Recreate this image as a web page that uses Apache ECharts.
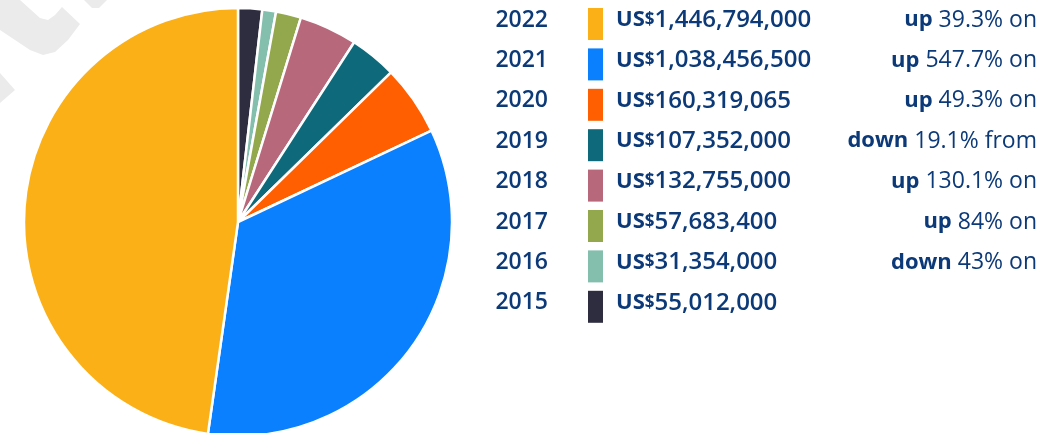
<!DOCTYPE html>
<html>
<head>
<meta charset="utf-8">
<script src="https://cdn.jsdelivr.net/npm/echarts@6/dist/echarts.min.js"></script>
<style>
  html, body { margin: 0; padding: 0; background: #fff; }
  #main { width: 1061px; height: 433px; }
</style>
</head>
<body>
<div id="main"></div>
<script>
// data, oldest first (pie runs clockwise from 12 o'clock)
var years = ['2015', '2016', '2017', '2018', '2019', '2020', '2021', '2022'];
var amounts = [55012000, 31354000, 57683400, 132755000, 107352000, 160319065, 1038456500, 1446794000];
var colors = ['#2e2d40', '#84bfae', '#93a84c', '#b8687b', '#0e6a7a', '#ff5f00', '#0a80ff', '#fbb017'];
var changeDir = ['', 'down', 'up', 'up', 'down', 'up', 'up', 'up'];
var changeText = ['', '43% on', '84% on', '130.1% on', '19.1% from', '49.3% on', '547.7% on', '39.3% on'];

var navy = '#0c3a78';
var font = 'Open Sans';
var rowTop = 8, rowStep = 40.4;

var chart = echarts.init(document.getElementById('main'));

var pieData = years.map(function (y, i) {
  return { name: y, value: amounts[i], itemStyle: { color: colors[i] } };
});

// legend listed newest first
var legendNames = years.slice().reverse();

var graphics = [
  // faint watermark shapes in the corner
  { type: 'polygon', z: -10, silent: true,
    shape: { points: [[0, 0], [20, 0], [40, 18], [48, 20], [55, 15], [62, 7], [80, 24], [68, 40], [55, 52], [43, 55], [30, 50], [0, 30]] },
    style: { fill: '#ebebeb' } },
  { type: 'polygon', z: -10, silent: true,
    shape: { points: [[84, 0], [107, 0], [99, 8], [92, 8]] },
    style: { fill: '#ebebeb' } },
  { type: 'polygon', z: -10, silent: true,
    shape: { points: [[0, 73], [15, 90], [0, 103]] },
    style: { fill: '#ebebeb' } }
];

legendNames.forEach(function (y, r) {
  var i = years.indexOf(y);
  var cy = rowTop + 12 + r * rowStep;
  graphics.push({
    type: 'text', silent: true,
    x: 548, y: cy,
    style: { text: y, fill: navy, font: '600 23px "' + font + '"', align: 'right', verticalAlign: 'middle' }
  });
  if (changeDir[i]) {
    graphics.push({
      type: 'text', silent: true,
      x: 1037, y: cy,
      style: {
        text: '{b|' + changeDir[i] + '}{n| ' + changeText[i] + '}',
        align: 'right', verticalAlign: 'middle',
        rich: {
          b: { fill: navy, font: 'bold 22px "' + font + '"' },
          n: { fill: navy, font: 'normal 23px "' + font + '"' }
        }
      }
    });
  }
});

var option = {
  animation: false,
  graphic: graphics,
  legend: {
    orient: 'vertical',
    left: 588,
    top: rowTop,
    padding: 0,
    itemWidth: 15,
    itemHeight: 32,
    itemGap: rowStep - 32,
    icon: 'rect',
    selectedMode: false,
    data: legendNames,
    itemStyle: { borderWidth: 0 },
    formatter: function (name) {
      var i = years.indexOf(name);
      return '{us|US}{d|$}{v|' + amounts[i].toLocaleString('en-US') + '}';
    },
    textStyle: {
      padding: [0, 0, 8, 8],
      rich: {
        us: { color: navy, fontFamily: font, fontWeight: 'bold', fontSize: 22 },
        d: { color: navy, fontFamily: font, fontWeight: 'bold', fontSize: 17 },
        v: { color: navy, fontFamily: font, fontWeight: 600, fontSize: 24 }
      }
    }
  },
  series: [{
    type: 'pie',
    center: [238, 222],
    radius: [0, 214],
    startAngle: 90,
    clockwise: true,
    label: { show: false },
    labelLine: { show: false },
    emphasis: { disabled: true },
    itemStyle: { borderColor: '#fff', borderWidth: 2.5 },
    data: pieData
  }]
};

chart.setOption(option);
window.onresize = function () { chart.resize(); };
</script>
</body>
</html>
